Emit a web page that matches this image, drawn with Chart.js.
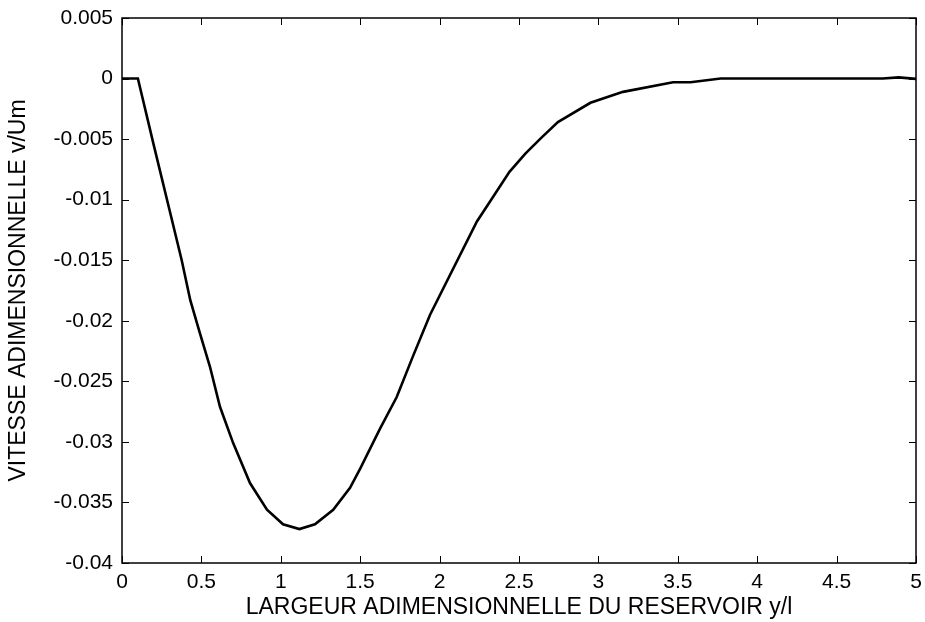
<!DOCTYPE html>
<html>
<head>
<meta charset="utf-8">
<script src="https://cdn.jsdelivr.net/npm/chart.js@4/dist/chart.umd.min.js"></script>
<style>
  html, body { margin: 0; padding: 0; background: #fff; }
  #wrap { width: 925px; height: 622px; }
</style>
</head>
<body>
<div id="wrap"><canvas id="c" width="925" height="622"></canvas></div>
<script>
    // values
    const posY = [0, 0.1, 0.2, 0.3, 0.376, 0.43, 0.49, 0.554, 0.617, 0.70, 0.806, 0.913, 1.014, 1.117,
                  1.215, 1.33, 1.436, 1.5, 1.625, 1.73, 1.83, 1.94, 2.235, 2.33, 2.44, 2.54, 2.64, 2.745,
                  2.95, 3.155, 3.47, 3.58, 3.77, 4.79, 4.89, 5];
    const vitesse = [0, 0, -0.0055, -0.0109, -0.015, -0.0183, -0.021, -0.0238, -0.0271, -0.0301, -0.0334, -0.0356, -0.0368, -0.0372,
                     -0.0368, -0.0356, -0.0338, -0.0322, -0.0289, -0.0263, -0.023, -0.0195, -0.0118, -0.0099, -0.0077, -0.0062, -0.0049, -0.0036,
                     -0.002, -0.0011, -0.0003, -0.0003, 0, 0, 0.0001, -0.00003];
    const xTicks = [0, 0.5, 1, 1.5, 2, 2.5, 3, 3.5, 4, 4.5, 5];
    const yTicks = [0.005, 0, -0.005, -0.01, -0.015, -0.02, -0.025, -0.03, -0.035, -0.04];

    const points = posY.map((x, i) => ({ x: x, y: vitesse[i] }));
    const fmt = v => String(Number(v.toFixed(4)));

    // matlab style box with inward ticks
    const boxTicks = {
        id: 'boxTicks',
        afterDraw(chart) {
            const ctx = chart.ctx, a = chart.chartArea;
            const sx = chart.scales.x, sy = chart.scales.y;
            const len = 7;
            ctx.save();
            ctx.strokeStyle = '#000';
            ctx.lineWidth = 1.5;
            ctx.strokeRect(a.left, a.top, a.right - a.left, a.bottom - a.top);
            ctx.lineWidth = 1;
            ctx.beginPath();
            xTicks.forEach(t => {
                const px = Math.round(sx.getPixelForValue(t)) + 0.5;
                ctx.moveTo(px, a.bottom); ctx.lineTo(px, a.bottom - len);
                ctx.moveTo(px, a.top); ctx.lineTo(px, a.top + len);
            });
            yTicks.forEach(t => {
                const py = Math.round(sy.getPixelForValue(t)) + 0.5;
                ctx.moveTo(a.left, py); ctx.lineTo(a.left + len, py);
                ctx.moveTo(a.right, py); ctx.lineTo(a.right - len, py);
            });
            ctx.stroke();
            ctx.restore();
        }
    };

    new Chart(document.getElementById('c'), {
        type: 'line',
        data: {
            datasets: [{
                data: points,
                borderColor: '#000000',
                borderWidth: 2.6,
                pointRadius: 0,
                tension: 0,
                fill: false
            }]
        },
        options: {
            responsive: false,
            animation: false,
            layout: { padding: { top: 18, right: 9, left: 0, bottom: 0 } },
            plugins: { legend: { display: false }, tooltip: { enabled: false } },
            scales: {
                x: {
                    type: 'linear', min: 0, max: 5,
                    afterFit: s => { s.height = 59; s.paddingLeft = 0; s.paddingRight = 0; },
                    afterBuildTicks: s => { s.ticks = xTicks.map(v => ({ value: v })); },
                    grid: { display: false, drawTicks: false },
                    border: { display: false },
                    ticks: { color: '#000', padding: 7, maxRotation: 0, font: { family: 'Liberation Sans, Arial', size: 21 }, callback: v => fmt(v) },
                    title: { display: true, text: 'LARGEUR ADIMENSIONNELLE DU RESERVOIR y/l', color: '#000', padding: { top: 0, bottom: 1 },
                             font: { family: 'Liberation Sans, Arial', size: 23 } }
                },
                y: {
                    type: 'linear', min: -0.04, max: 0.005,
                    afterFit: s => { s.width = 122; s.paddingTop = 0; s.paddingBottom = 0; },
                    afterBuildTicks: s => { s.ticks = yTicks.map(v => ({ value: v })); },
                    grid: { display: false, drawTicks: false },
                    border: { display: false },
                    ticks: { color: '#000', padding: 9, font: { family: 'Liberation Sans, Arial', size: 21 }, callback: v => fmt(v) },
                    title: { display: true, text: 'VITESSE ADIMENSIONNELLE v/Um', color: '#000', padding: { top: 5, bottom: 0 },
                             font: { family: 'Liberation Sans, Arial', size: 23 } }
                }
            }
        },
        plugins: [boxTicks]
    });
</script>
</body>
</html>
